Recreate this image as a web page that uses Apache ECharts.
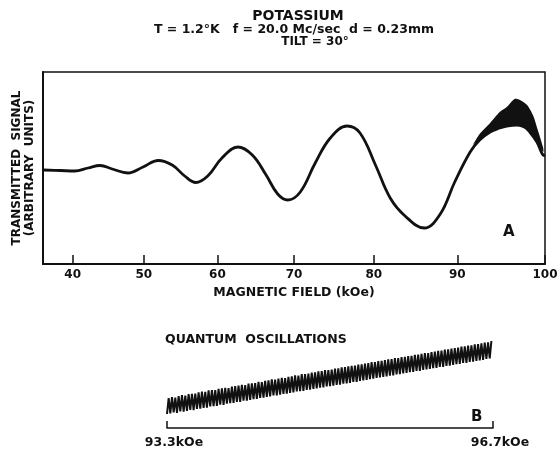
<!DOCTYPE html>
<html><head><meta charset="utf-8">
<script src="https://cdn.jsdelivr.net/npm/echarts@6/dist/echarts.min.js"></script>
<style>html,body{margin:0;background:#fff}#c{width:558px;height:451px}</style>
</head><body><div id="c"></div>
<script>
// Panel A: transmitted signal (arbitrary units) against magnetic field in kOe
const fieldTicks = [40, 50, 60, 70, 80, 90, 100];
const traceField  = [35.8, 38.2, 40.3, 42.2, 43.9, 45.6, 47.8, 49.9, 52.0, 53.9, 55.6, 57.1, 58.7, 60.6, 62.7, 64.6, 66.4, 67.9, 69.2, 70.8, 72.7, 74.6, 76.7, 78.3, 80.2, 82.0, 83.8, 86.1, 88.0, 89.7, 91.5, 92.6, 93.8, 94.9, 95.7, 96.9, 97.7, 98.3, 99.1, 99.7, 100];
const traceSignal = [47, 46.75, 46.5, 48, 49.25, 47.5, 45.5, 48.5, 51.75, 49.5, 44, 40.75, 44, 53, 58.5, 54.5, 44.5, 35, 32, 36, 50.5, 63, 69, 65.5, 49.5, 33, 24, 18, 25, 41, 56, 62, 66, 68, 69, 69.5, 68.5, 66, 61, 55, 54];
// envelope of the fast oscillations near the top of the sweep
const bandField = [91.8, 92.6, 93.8, 94.9, 95.7, 96.6, 97.2, 98.0, 98.7, 99.2, 99.8];
const bandUpper = [59.5, 65, 70.5, 76, 78.5, 82.5, 82, 79.5, 74, 67, 58];
const bandLower = [59.5, 62, 66, 68, 69, 69.5, 69.3, 67.5, 64, 60, 56];

// Panel B: expanded recording of the quantum oscillations, 93.3 to 96.7 kOe
const qTicks = [93.3, 96.7];
const qStart = 93.3;
const qPeriod = 0.0347;   // kOe per oscillation (98 cycles counted across the record)
const qPeaks = [
  15, 15.5, 15.2, 16, 16.4, 16.2, 17, 17.1, 17.2, 17.8,
  18.2, 18.1, 18.8, 19.0, 18.9, 19.6, 19.8, 20.1, 20.0, 20.7,
  21.0, 21.2, 21.6, 21.5, 22.2, 22.3, 22.5, 23.1, 23.0, 23.6,
  23.8, 24.3, 24.2, 24.7, 25.1, 25.0, 25.6, 25.8, 26.3, 26.2,
  26.9, 27.0, 27.2, 27.7, 27.8, 28.3, 28.4, 28.9, 29.0, 29.2,
  29.7, 29.8, 30.3, 30.4, 30.8, 31.1, 31.2, 31.7, 31.8, 32.2,
  32.4, 32.9, 33.0, 33.4, 33.6, 33.9, 34.3, 34.4, 34.9, 35.0,
  35.4, 35.6, 36.0, 36.1, 36.6, 36.7, 37.1, 37.4, 37.5, 38.0,
  38.2, 38.6, 38.7, 39.2, 39.3, 39.7, 40.0, 40.2, 40.7, 40.8,
  41.2, 41.3, 41.8, 42.0, 42.3, 42.7, 42.8, 43.5
];
const qTroughs = [
  7, 7.3, 7.8, 7.6, 8.3, 8.2, 8.6, 9.1, 8.9, 9.5,
  9.7, 10.1, 10.2, 10.8, 10.9, 11.1, 11.7, 11.6, 12.2, 12.4,
  12.6, 13.0, 13.1, 13.7, 13.7, 14.1, 14.4, 14.6, 15.1, 15.2,
  15.6, 15.8, 16.3, 16.3, 16.7, 17.1, 17.2, 17.6, 17.8, 18.3,
  18.4, 18.6, 19.1, 19.2, 19.5, 19.8, 20.2, 20.3, 20.8, 20.9,
  21.2, 21.5, 21.7, 22.2, 22.3, 22.6, 23.1, 23.1, 23.6, 23.8,
  24.1, 24.4, 24.7, 25.0, 25.3, 25.5, 25.8, 26.2, 26.3, 26.8,
  26.9, 27.3, 27.5, 27.9, 28.0, 28.5, 28.6, 29.0, 29.3, 29.5,
  29.9, 30.0, 30.5, 30.6, 31.0, 31.2, 31.6, 31.9, 32.1, 32.5,
  32.6, 33.0, 33.2, 33.6, 33.8, 34.1, 34.5, 34.8
];

// The field sweep is not linear in chart travel u (0..1 across panel A)
const SWEEP = [35.73, 72.8, -8.53];
function fieldAt(u) { return SWEEP[0] + SWEEP[1] * u + SWEEP[2] * u * u; }
function travelOf(B) {
  const a = SWEEP[2], b = SWEEP[1], c = SWEEP[0] - B;
  const u = (-b + Math.sqrt(b * b - 4 * a * c)) / (2 * a);
  return Math.min(1, Math.max(0, u));
}

// trough, peak, trough, ... one pair per oscillation
const qTrace = [];
qTroughs.forEach((lo, i) => {
  qTrace.push([qStart + i * qPeriod, lo]);
  qTrace.push([qStart + (i + 0.5) * qPeriod, qPeaks[i]]);
});

const ink = '#111';
const font = 'DejaVu Sans';

function bandSeries(xi, yi, fields, upper, lower, mapX) {
  const pts = fields.map((f, i) => [mapX(f), upper[i], lower[i]]);
  return {
    type: 'custom', xAxisIndex: xi, yAxisIndex: yi, silent: true,
    data: pts,
    renderItem(params, api) {
      if (params.dataIndex !== 0) return null;
      const top = pts.map(p => api.coord([p[0], p[1]]));
      const bot = pts.map(p => api.coord([p[0], p[2]])).reverse();
      return { type: 'polygon', shape: { points: top.concat(bot), smooth: 0.25 }, style: { fill: ink } };
    }
  };
}

const chart = echarts.init(document.getElementById('c'), null, { renderer: 'canvas' });
chart.setOption({
  backgroundColor: '#fff',
  animation: false,
  title: [
    { text: 'POTASSIUM', left: 293, top: 4, textAlign: 'center',
      textStyle: { fontFamily: font, fontSize: 14, fontWeight: 'bold', color: ink } },
    { text: 'T = 1.2°K   f = 20.0 Mc/sec  d = 0.23mm', left: 289, top: 18, textAlign: 'center',
      textStyle: { fontFamily: font, fontSize: 12.5, fontWeight: 'bold', color: ink } },
    { text: 'TILT = 30°', left: 310, top: 31, textAlign: 'center',
      textStyle: { fontFamily: font, fontSize: 12, fontWeight: 'bold', color: ink } }
  ],
  grid: [
    { left: 43, top: 72, width: 502, height: 192, show: true, borderColor: ink, borderWidth: 1.5,
      outerBoundsMode: 'none', containLabel: false },
    { left: 167, top: 335, width: 326, height: 93, outerBoundsMode: 'none', containLabel: false }
  ],
  xAxis: [
    { gridIndex: 0, type: 'value', min: 0, max: 1,
      axisLine: { lineStyle: { color: ink, width: 2 } },
      axisTick: { inside: true, length: 9, lineStyle: { color: ink, width: 1.5 },
        customValues: fieldTicks.map(travelOf) },
      axisLabel: { customValues: fieldTicks.map(travelOf), margin: 5, hideOverlap: false,
        showMinLabel: true, showMaxLabel: true,
        formatter: v => String(Math.round(fieldAt(v))),
        fontFamily: font, fontSize: 12, fontWeight: 'bold', color: ink },
      splitLine: { show: false },
      name: 'MAGNETIC FIELD (kOe)', nameLocation: 'middle', nameGap: 22,
      nameTextStyle: { fontFamily: font, fontSize: 12.5, fontWeight: 'bold', color: ink } },
    { gridIndex: 1, type: 'value', min: qTicks[0], max: qTicks[1],
      axisLine: { lineStyle: { color: ink, width: 1.5 } },
      axisTick: { inside: true, length: 7, lineStyle: { color: ink, width: 1.5 }, customValues: qTicks },
      axisLabel: { customValues: qTicks, margin: 8, formatter: v => v.toFixed(1) + 'kOe',
        showMinLabel: true, showMaxLabel: true,
        padding: [0, 0, 0, 14], fontFamily: font, fontSize: 12.5, fontWeight: 'bold', color: ink },
      splitLine: { show: false } }
  ],
  yAxis: [
    { gridIndex: 0, type: 'value', min: 0, max: 96,
      axisLine: { show: true, lineStyle: { color: ink, width: 2 } },
      axisTick: { show: false }, axisLabel: { show: false }, splitLine: { show: false },
      name: 'TRANSMITTED  SIGNAL\n(ARBITRARY  UNITS)', nameLocation: 'middle', nameRotate: 90, nameGap: 7,
      nameTextStyle: { fontFamily: font, fontSize: 12, fontWeight: 'bold', color: ink, lineHeight: 13 } },
    { gridIndex: 1, type: 'value', min: 0, max: 46.5, show: false }
  ],
  graphic: [
    { type: 'text', left: 503, top: 225, style: { text: 'A', font: 'bold 15px "DejaVu Sans"', fill: ink } },
    { type: 'text', left: 471, top: 410, style: { text: 'B', font: 'bold 15px "DejaVu Sans"', fill: ink } },
    { type: 'text', left: 165, top: 333, style: { text: 'QUANTUM  OSCILLATIONS', font: 'bold 12.5px "DejaVu Sans"', fill: ink } }
  ],
  series: [
    { type: 'line', xAxisIndex: 0, yAxisIndex: 0, smooth: 0.4, showSymbol: false, silent: true,
      lineStyle: { color: ink, width: 2.8 },
      data: traceField.map((f, i) => [travelOf(f), traceSignal[i]]) },
    bandSeries(0, 0, bandField, bandUpper, bandLower, travelOf),
    { type: 'line', xAxisIndex: 1, yAxisIndex: 1, showSymbol: false, silent: true,
      lineStyle: { color: ink, width: 2 }, data: qTrace }
  ]
});
</script>
</body></html>
